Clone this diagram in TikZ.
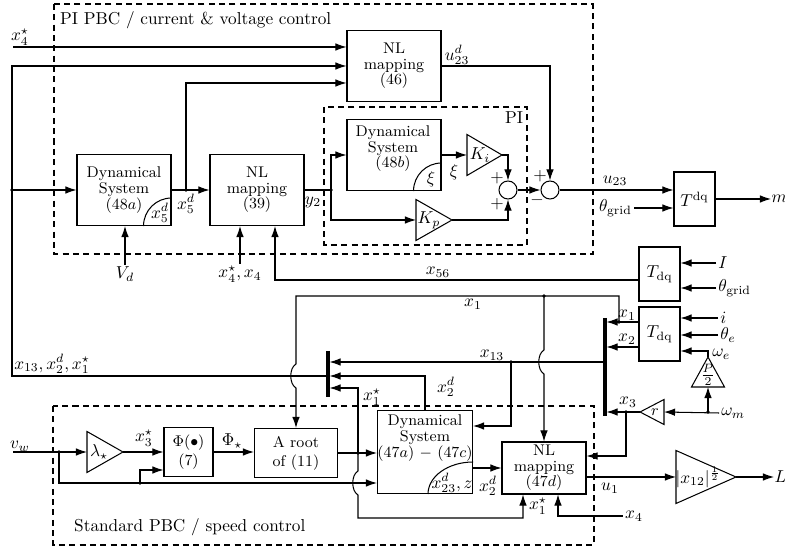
\documentclass[tikz,border=0pt]{standalone}
\usetikzlibrary{arrows.meta,calc}
\newcommand\myqarc[3]{\draw ($(#1.south east)+(-#2,0)$) .. controls ($(#1.south east)+(-#2,{-0.5523*#3})$) and ($(#1.south east)+({-0.5523*#2},-#3)$) .. ($(#1.south east)+(0,-#3)$);}
\begin{document}
\begin{tikzpicture}[x=0.58pt,y=-0.58pt,line width=0.6pt,
  every node/.style={inner sep=1pt},
  arr/.style={-{Latex[length=6.4pt,width=4.4pt]}},
  blk/.style 2 args={draw,inner sep=0pt,minimum width=#1*0.58pt,minimum height=#2*0.58pt,align=center,font=\small\linespread{0.82}\selectfont},
  blkn/.style 2 args={draw,inner sep=0pt,minimum width=#1*0.58pt,minimum height=#2*0.58pt,align=center,font=\small},
  btxt/.style={align=center,font=\small\linespread{0.82}\selectfont,inner sep=0pt},
  dbox/.style={draw,dash pattern=on 3.5pt off 2.5pt},
  bus/.style={line width=1.75pt},
  sumc/.style={draw,circle,minimum size=10.44pt,inner sep=0pt}
]
\useasboundingbox (0,0) rectangle (785,548);

% dashed frames
\draw[dbox] (54,4) rectangle (593,254);
\draw[dbox] (324,107) rectangle (527,245);
\draw[dbox] (53,406) rectangle (594,545);

% blocks
\node[blk={94}{71}] (nl46) at (394,66) {NL\\mapping\\(46)};
\node[blk={94}{71}] (ds48a) at (124,190) {Dynamical\\System\\(48$a$)};
\node[blk={94}{71}] (nl39) at (257,190) {NL\\mapping\\(39)};
\node[blk={94}{71}] (ds48b) at (394,155) {};
\node[btxt] (ds48bt) at (393,149) {Dynamical\\System\\(48$b$)};
\node[blkn={41}{54},font=\normalsize] (tdq) at (694.5,199) {$T^{\mathrm{dq}}$};
\node[blkn={41}{54},font=\normalsize] (tdqA) at (659.5,274) {$T_{\mathrm{dq}}$};
\node[blkn={41}{54},font=\normalsize] (tdqB) at (659.5,334) {$T_{\mathrm{dq}}$};
\node[blkn={49}{49}] (phi) at (188.5,452) {$\Phi(\bullet)$\\(7)};
\node[blkn={83}{49}] (root) at (296,453) {A root\\of (11)};
\node[blk={95}{83}] (ds47) at (425,452) {};
\node[btxt] (ds47t) at (425,438) {Dynamical\\System\\(47$a$) $-$ (47$c$)};
\node[blk={84}{52}] (nl47d) at (544,468) {NL\\mapping\\(47$d$)};
\node[sumc] (sum1) at (508,190) {};
\node[sumc] (sum2) at (550,190) {};

\myqarc{ds48a}{28}{28}
\myqarc{ds48b}{28}{28}
\myqarc{ds47}{45}{32}

% gains
\draw (467,134.5) -- (502,155) -- (467,175.5) -- cycle; \node (ki) at (480,155) {$K_i$};
\coordinate (kiW) at (467,155); \coordinate (kiE) at (502,155);
\draw (416,199.5) -- (452,220) -- (416,240.5) -- cycle; \node (kp) at (429,220) {$K_p$};
\coordinate (kpW) at (416,220); \coordinate (kpE) at (452,220);
\draw (87,431.5) -- (123,452) -- (87,472.5) -- cycle; \node (lam) at (99,452) {$\lambda_\star$};
\coordinate (lamW) at (87,452); \coordinate (lamE) at (123,452);
\draw (676,450.5) -- (736,477) -- (676,503.5) -- cycle; \node[inner sep=0pt] (absn) at (698,477) {$|x_{12}|^{\frac{1}{2}}$};
\coordinate (absW) at (676,477); \coordinate (absE) at (736,477);
\draw (640,412) -- (664,399.5) -- (664,424.5) -- cycle; \node[font=\small,inner sep=0pt] (rg) at (655,412) {$r$};
\coordinate (rtip) at (640,412); \coordinate (rbase) at (664,412);
\draw (708,357) -- (724.5,387) -- (691.5,387) -- cycle; \node[inner sep=0pt] (p2) at (708,375) {$\frac{P}{2}$};
\coordinate (p2top) at (708,357); \coordinate (p2base) at (708,387);

% buses
\draw[bus] (605,318) -- (605,416);
\draw[bus] (328,351) -- (328,397);

% labels
\node[anchor=west] (title) at (58,20) {PI PBC / current \& voltage control};
\node[anchor=west] (std) at (72,527) {Standard PBC / speed control};
\node (x4sl) at (20,37) {$x_4^\star$};
\node (u23dl) at (457,55) {$u_{23}^d$};
\node (pil) at (514,118) {PI};
\node (xil) at (454,172) {$\xi$};
\node (xiin) at (431,179) {$\xi$};
\node (x5dl) at (186,204) {$x_5^d$};
\node (x5din) at (160,213) {$x_5^d$};
\node (y2l) at (313,202) {$y_2$};
\node at (497,178) {$+$};
\node at (497,204) {$+$};
\node at (540,176) {$+$};
\node at (537,200) {$-$};
\node (u23l) at (615,181) {$u_{23}$};
\node[anchor=east] (thg1) at (634,208) {$\theta_{\mathrm{grid}}$};
\node[anchor=west,inner sep=0pt] (ml) at (771,199) {$m$};
\node (Vd) at (125,274) {$V_d$};
\node (x4s) at (240,274) {$x_4^\star, x_4$};
\node (x56l) at (438,272) {$x_{56}$};
\node[anchor=west] (Il) at (716,263) {$I$};
\node[anchor=west] (thg2) at (716,288) {$\theta_{\mathrm{grid}}$};
\node[anchor=west] (il) at (718,318) {$i$};
\node[anchor=west] (thel) at (718,335) {$\theta_e$};
\node[anchor=west] (wel) at (710,354) {$\omega_e$};
\node[anchor=west] (wml) at (719,413) {$\omega_m$};
\node (x1la) at (627,315) {$x_1$};
\node (x2l) at (627,339) {$x_2$};
\node (x3l) at (628,402) {$x_3$};
\node (x1l) at (473,304) {$x_1$};
\node (x13l) at (492,355) {$x_{13}$};
\node (x2dl) at (446,387) {$x_2^d$};
\node (x1sl) at (372,397) {$x_1^\star$};
\node (busl) at (52,364) {$x_{13}, x_2^d, x_1^\star$};
\node (vwl) at (20,446) {$v_w$};
\node (x3sl) at (144,438) {$x_3^\star$};
\node (phisl) at (232,441) {$\Phi_\star$};
\node[inner sep=0pt] (x23in) at (452,483) {$x_{23}^d, z$};
\node (x2dl2) at (488,486) {$x_2^d$};
\node (u1l) at (610,488) {$u_1$};
\node (x1sl2) at (538,506) {$x_1^\star$};
\node (x4b) at (634,516) {$x_4$};
\node[anchor=west,inner sep=0pt] (Ll) at (774,477) {$L$};

% junctions
\coordinate (jL) at (12,190);
\coordinate (jx5) at (186,190);
\coordinate (jy2) at (331,190);
\coordinate (jx1a) at (619,322);
\coordinate (jx1b) at (544,296);
\coordinate (jx13) at (511,362);
\coordinate (jxs) at (358,453);
\coordinate (j3) at (626,412);
\coordinate (jwm) at (708,412);
\coordinate (jvw) at (59,452);
\coordinate (jvw2) at (140,483);
\coordinate (x4in) at (13,47);
\coordinate (vwin) at (13,452);
\coordinate (lbo) at (328,376);
\coordinate (rbx13) at (605,362);

% connectors, top
\draw[arr] (x4in) -- (nl46.west |- x4in);
\draw[arr] (lbo) -- (12,376) -- (12,66) -- (nl46.west |- 0,66);
\draw[arr] (jL) -- (ds48a.west);
\draw[arr] (ds48a.east) -- (nl39.west);
\draw[arr] (jx5) |- (nl46.west |- 0,83);
\draw (nl39.east) -- (jy2);
\draw[arr] (jy2) |- (ds48b.west);
\draw[arr] (jy2) |- (kpW);
\draw[arr] (ds48b.east) -- (kiW);
\draw[arr] (kiE) -| (sum1.north);
\draw[arr] (kpE) -| (sum1.south);
\draw[arr] (sum1.east) -- (sum2.west);
\draw[arr] (nl46.east) -| (sum2.north);
\draw[arr] (sum2.east) -- (sum2.east -| tdq.west);
\draw[arr] (thg1.east) -- (thg1.east -| tdq.west);
\draw[arr] (tdq.east) -- (ml.west);
\draw[arr] (tdqA.west |- 0,280) -| ($(nl39.south)+(18,0)$);
\draw[arr] (Vd.north) -- (Vd.north |- ds48a.south);
\draw[arr] (x4s.north) -- (x4s.north |- nl39.south);
\draw[arr] (Il.west) -- (Il.west -| tdqA.east);
\draw[arr] (thg2.west) -- (thg2.west -| tdqA.east);
\draw[arr] (il.west) -- (il.west -| tdqB.east);
\draw[arr] (thel.west) -- (thel.west -| tdqB.east);
\draw[arr] (p2top) -- (708,351) -- (tdqB.east |- 0,351);

% right bus and feedback
\draw[arr] (tdqB.west |- 0,322) -- (606.5,322);
\draw[arr] (tdqB.west |- 0,347) -- (606.5,347);
\draw[arr] (jx1a) -- (619,296) -- (296,296) -- (296,364) .. controls (289,368) and (289,384) .. (296,388) -- (root.north);
\draw[arr] (jx1b) -- (544,350) .. controls (537,354) and (537,370) .. (544,374) -- (nl47d.north);
\draw[arr] (rbx13) -- (329.5,362);
\draw[arr] (jx13) |- (ds47.east |- 0,426);
\draw[arr] (ds47.north) |- (329.5,376);
\draw[arr] (jxs) |- (329.5,388);
\draw[arr] (jxs) -- (358,471) .. controls (351,475) and (351,491) .. (358,495) -- (358,518) -| ($(nl47d.south)+(-21,0)$);
\draw[arr] (rtip) -- (606.5,412);
\draw[arr] (j3) |- (nl47d.east |- 0,456);
\draw[arr] (wml.west) -- (rbase);
\draw[arr] (jwm) -- (p2base);
\draw[arr] (x4b.west) -| ($(nl47d.south)+(14,0)$);

% bottom
\draw[arr] (nl47d.east |- 0,477) -- (absW);
\draw[arr] (absE) -- (Ll.west);
\draw[arr] (ds47.east |- nl47d.west) -- (nl47d.west);
\draw[arr] (root.east) -- (root.east -| ds47.west);
\draw[arr] (phi.east) -- (phi.east -| root.west);
\draw[arr] (lamE) -- (phi.west);
\draw[arr] (vwin) -- (lamW);
\draw[arr] (jvw) |- (ds47.west |- 0,483);
\draw[arr] (jvw2) |- (phi.west |- 0,470);

\foreach \p in {jL,jx5,jy2,jx1a,jx1b,jx13,jxs,j3,jwm,jvw,jvw2} \fill (\p) circle[radius=1.1pt];
\end{tikzpicture}
\end{document}
